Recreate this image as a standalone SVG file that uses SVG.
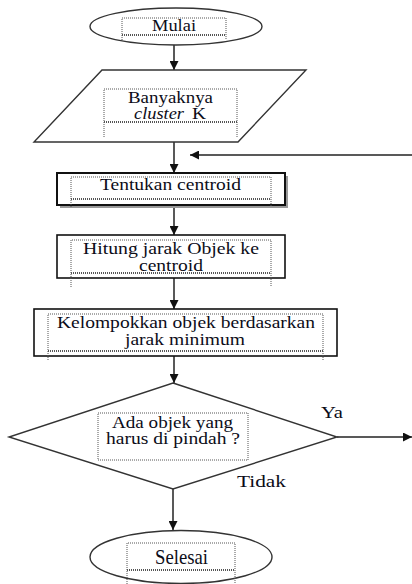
<svg xmlns="http://www.w3.org/2000/svg" width="412" height="584" viewBox="0 0 412 584">
<style>
.t{font-family:'Liberation Serif',serif;font-size:16px;fill:#0c0c18}
.it{font-style:italic}
.sh{fill:none;stroke:#333;stroke-width:1.4}
.dot{fill:none;stroke:#555;stroke-width:1;stroke-dasharray:1,1}
.dl{fill:none;stroke:#555;stroke-width:2;stroke-dasharray:1,1}
.c{fill:none;stroke:#222;stroke-width:1.5;marker-end:url(#ah)}
</style>
<defs>
<marker id="ah" viewBox="0 0 10 10" refX="10" refY="5" markerWidth="9" markerHeight="9" markerUnits="userSpaceOnUse" orient="auto">
<path d="M0,0 L10,5 L0,10 z" fill="#111"/>
</marker>
</defs>
<rect width="412" height="584" fill="#fff"/>

<g id="connectors">
<line class="c" x1="174" y1="45" x2="174" y2="70"/>
<line class="c" x1="174" y1="142" x2="174" y2="173"/>
<line class="c" x1="412" y1="155" x2="190" y2="155"/>
<line class="c" x1="174" y1="207" x2="174" y2="235"/>
<line class="c" x1="174" y1="278" x2="174" y2="309"/>
<line class="c" x1="174" y1="356" x2="174" y2="383"/>
<line class="c" x1="337" y1="437" x2="412" y2="437"/>
<line class="c" x1="173" y1="489" x2="173" y2="530"/>
</g>

<g id="mulai">
<ellipse class="sh" cx="176" cy="26.5" rx="86" ry="18.5" fill="#fff"/>
<path class="dot" d="M122,40 V18 H226 V40"/>
<line class="dl" x1="122" y1="35" x2="226" y2="35"/>
<text class="t" x="152" y="31" textLength="44" lengthAdjust="spacingAndGlyphs">Mulai</text>
</g>

<g id="input-k">
<polygon class="sh" points="102,70 306,70 238,142 34,142"/>
<path class="dot" d="M104,137 V89 H237 V137"/>
<line class="dl" x1="104" y1="122" x2="237" y2="122"/>
<text class="t" x="128" y="103" textLength="85" lengthAdjust="spacingAndGlyphs">Banyaknya</text>
<text class="t it" x="134" y="119" textLength="50" lengthAdjust="spacingAndGlyphs">cluster</text>
<text class="t" x="192" y="119" textLength="14" lengthAdjust="spacingAndGlyphs">K</text>
</g>

<g id="tentukan">
<rect x="60" y="176" width="228" height="32" fill="#999"/>
<rect x="57" y="173" width="228" height="32" fill="#fff" stroke="#111" stroke-width="2"/>
<path class="dot" d="M71,207 V177 H271 V207"/>
<line class="dl" x1="71" y1="199" x2="271" y2="199"/>
<text class="t" x="100" y="190" textLength="141" lengthAdjust="spacingAndGlyphs">Tentukan centroid</text>
</g>

<g id="hitung">
<rect x="57" y="235" width="228" height="43" fill="#fff" stroke="#111" stroke-width="1.6"/>
<path class="dot" d="M71,287 V240 H271 V287"/>
<line class="dl" x1="71" y1="273" x2="271" y2="273"/>
<text class="t" x="83" y="254" textLength="176" lengthAdjust="spacingAndGlyphs">Hitung jarak Objek ke</text>
<text class="t" x="139" y="271" textLength="64" lengthAdjust="spacingAndGlyphs">centroid</text>
</g>

<g id="kelompokkan">
<rect x="34" y="309" width="303" height="47" fill="#fff" stroke="#111" stroke-width="1.6"/>
<path class="dot" d="M48,360 V314 H323 V360"/>
<line class="dl" x1="48" y1="351" x2="323" y2="351"/>
<text class="t" x="57" y="328" textLength="258" lengthAdjust="spacingAndGlyphs">Kelompokkan objek berdasarkan</text>
<text class="t" x="125" y="345" textLength="120" lengthAdjust="spacingAndGlyphs">jarak minimum</text>
</g>

<g id="keputusan">
<polygon class="sh" points="173,383 337,437 173,489 9,437" fill="#fff"/>
<rect class="dot" x="98" y="413" width="150" height="47"/>
<text class="t" x="112" y="428" textLength="121" lengthAdjust="spacingAndGlyphs">Ada objek yang</text>
<text class="t" x="106" y="444" textLength="134" lengthAdjust="spacingAndGlyphs">harus di pindah ?</text>
<text class="t" x="321" y="418" textLength="22" lengthAdjust="spacingAndGlyphs">Ya</text>
<text class="t" x="237" y="487" textLength="49" lengthAdjust="spacingAndGlyphs">Tidak</text>
</g>

<g id="selesai">
<ellipse class="sh" cx="181" cy="557" rx="91" ry="26.5" fill="#fff"/>
<path class="dot" d="M127,584 V543 H235 V584"/>
<line class="dl" x1="127" y1="570" x2="235" y2="570"/>
<text class="t" x="155" y="564" style="font-size:21px" textLength="53" lengthAdjust="spacingAndGlyphs">Selesai</text>
</g>
</svg>
